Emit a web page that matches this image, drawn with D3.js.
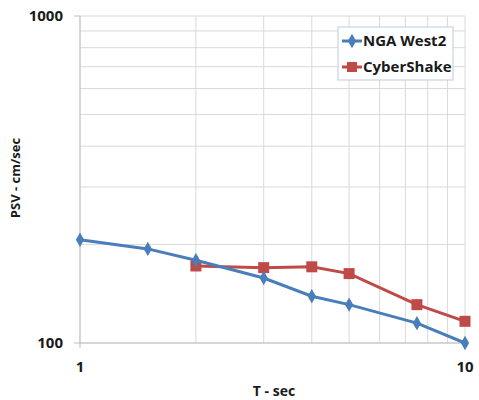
<!DOCTYPE html>
<html>
<head>
<meta charset="utf-8">
<script src="https://cdn.jsdelivr.net/npm/d3@7"></script>
<style>
  body { margin: 0; background: #fff; }
  text { font-family: "Open Sans", sans-serif; font-weight: bold; fill: #1a1a1a; }
</style>
</head>
<body>
<svg id="chart" width="479" height="400"></svg>
<script>
// periods (sec) and PSV values (cm/sec)
var ngaT = [1, 1.5, 2, 3, 4, 5, 7.5, 10];
var ngaPSV = [207, 194, 179, 158, 139, 131, 115, 100];
var csT = [2, 3, 4, 5, 7.5, 10];
var csPSV = [172, 170, 171, 163, 131, 116.5];
var xTickLabels = [1, 10];
var yTickLabels = [100, 1000];

var svg = d3.select("#chart");
var plotL = 80, plotR = 465, plotT = 16, plotB = 343;

var x = d3.scaleLog().domain([1, 10]).range([plotL, plotR]);
var y = d3.scaleLog().domain([100, 1000]).range([plotB, plotT]);

// gridlines
var xGrid = d3.range(1, 11);
var yGrid = d3.range(100, 1001, 100);
svg.selectAll(".vg").data(xGrid).enter().append("line")
  .attr("x1", d => x(d)).attr("x2", d => x(d))
  .attr("y1", plotT).attr("y2", plotB)
  .attr("stroke", "#d9d9d9").attr("stroke-width", 1);
svg.selectAll(".hg").data(yGrid).enter().append("line")
  .attr("x1", plotL).attr("x2", plotR)
  .attr("y1", d => y(d)).attr("y2", d => y(d))
  .attr("stroke", "#d9d9d9").attr("stroke-width", 1);

// axis lines and ticks
svg.append("line").attr("x1", plotL).attr("x2", plotL).attr("y1", plotT).attr("y2", plotB)
  .attr("stroke", "#bfbfbf");
svg.append("line").attr("x1", plotL).attr("x2", plotR).attr("y1", plotB).attr("y2", plotB)
  .attr("stroke", "#bfbfbf");
svg.selectAll(".yt").data(yTickLabels).enter().append("line")
  .attr("x1", plotL - 6).attr("x2", plotL).attr("y1", d => y(d)).attr("y2", d => y(d))
  .attr("stroke", "#bfbfbf");
svg.selectAll(".xt").data(xTickLabels).enter().append("line")
  .attr("x1", d => x(d)).attr("x2", d => x(d)).attr("y1", plotB).attr("y2", plotB + 5)
  .attr("stroke", "#bfbfbf");

svg.selectAll(".yl").data(yTickLabels).enter().append("text")
  .attr("x", plotL - 17).attr("y", d => y(d)).attr("dy", "0.35em")
  .attr("text-anchor", "end").attr("font-size", 15).text(d => d);
svg.selectAll(".xl").data(xTickLabels).enter().append("text")
  .attr("x", d => x(d)).attr("y", plotB + 29)
  .attr("text-anchor", "middle").attr("font-size", 15).text(d => d);

// axis titles
svg.append("text").attr("x", 274).attr("y", 396).attr("text-anchor", "middle")
  .attr("font-size", 14).text("T - sec");
svg.append("text").attr("transform", "translate(20,178) rotate(-90)")
  .attr("text-anchor", "middle").attr("font-size", 13).text("PSV - cm/sec");

var line = d3.line().x(d => x(d[0])).y(d => y(d[1]));
var nga = ngaT.map((t, i) => [t, ngaPSV[i]]);
var cs = csT.map((t, i) => [t, csPSV[i]]);

var blue = "#4a7ebb", red = "#be4b48";

svg.append("path").datum(cs).attr("d", line).attr("fill", "none")
  .attr("stroke", red).attr("stroke-width", 3);
svg.selectAll(".csm").data(cs).enter().append("rect")
  .attr("x", d => x(d[0]) - 5.5).attr("y", d => y(d[1]) - 5.5)
  .attr("width", 11).attr("height", 11).attr("fill", red);

svg.append("path").datum(nga).attr("d", line).attr("fill", "none")
  .attr("stroke", blue).attr("stroke-width", 3);
var diamond = d3.symbol().type(d3.symbolDiamond).size(60);
svg.selectAll(".ngam").data(nga).enter().append("path")
  .attr("d", diamond)
  .attr("transform", d => "translate(" + x(d[0]) + "," + y(d[1]) + ")")
  .attr("fill", blue);

// legend
var lg = svg.append("g");
lg.append("rect").attr("x", 338).attr("y", 27).attr("width", 115).attr("height", 53)
  .attr("fill", "#fff").attr("stroke", "#b9cde5");
lg.append("line").attr("x1", 342).attr("x2", 362).attr("y1", 41).attr("y2", 41)
  .attr("stroke", blue).attr("stroke-width", 3);
lg.append("path").attr("d", diamond).attr("transform", "translate(352,41)").attr("fill", blue);
lg.append("text").attr("x", 363).attr("y", 41).attr("dy", "0.35em").attr("font-size", 15).text("NGA West2");
lg.append("line").attr("x1", 342).attr("x2", 362).attr("y1", 67).attr("y2", 67)
  .attr("stroke", red).attr("stroke-width", 3);
lg.append("rect").attr("x", 347).attr("y", 62).attr("width", 10).attr("height", 10).attr("fill", red);
lg.append("text").attr("x", 363).attr("y", 67).attr("dy", "0.35em").attr("font-size", 15).text("CyberShake");
</script>
</body>
</html>
